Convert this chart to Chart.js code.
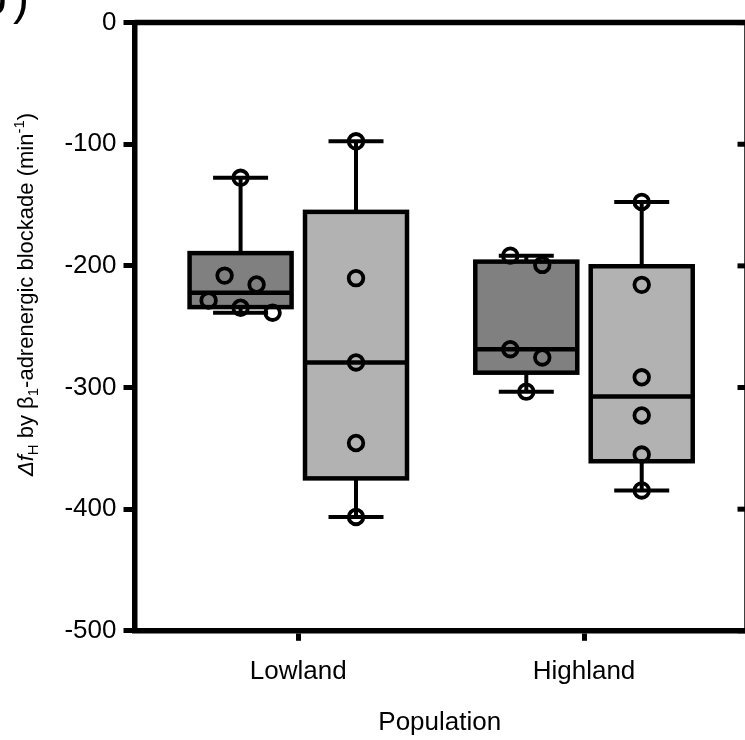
<!DOCTYPE html>
<html><head><meta charset="utf-8">
<script src="https://cdn.jsdelivr.net/npm/chart.js@4.4.1/dist/chart.umd.min.js"></script>
<style>html,body{margin:0;padding:0;background:#fff;}#wrap{width:745px;height:740px;position:relative;}</style>
</head><body><div id="wrap"><canvas id="c" width="745" height="740"></canvas></div>
<script>
// ---------- data ----------
const categories = ['Lowland', 'Highland'];
const seriesNames = ['Series 1', 'Series 2'];
const yTicks = [0, -100, -200, -300, -400, -500];
// individual observations
const lowlandDark = [-127.6, -208.0, -215.3, -228.4, -234.4, -238.5];
const lowlandLight = [-97.6, -210.1, -279.4, -345.6, -406.4];
const highlandDark = [-191.6, -199.2, -268.5, -275.3, -303.4];
const highlandLight = [-147.4, -215.6, -291.6, -323.0, -355.1, -384.6];
// box statistics: [min, q1, median, q3, max]
const lowlandDarkBox = [-238.5, -233.9, -222.0, -189.5, -127.6];
const lowlandLightBox = [-406.4, -374.7, -279.4, -155.6, -97.6];
const highlandDarkBox = [-303.4, -287.8, -268.5, -196.5, -191.6];
const highlandLightBox = [-384.6, -360.6, -307.4, -200.3, -147.4];
const yTitleParts = [
  {t: 'Δ', italic: true}, {t: 'f', italic: true}, {t: 'H', sub: true},
  {t: ' by '}, {t: 'β'}, {t: '1', sub: true},
  {t: '-adrenergic blockade (min'}, {t: '-1', sup: true}, {t: ')'}
];
const xTitle = 'Population';
const panelLabel = ['b', ')'];

// ---------- layout constants ----------
const FONT = "'Liberation Sans', Arial, Helvetica, sans-serif";
Chart.defaults.font.family = FONT;
Chart.defaults.color = '#000';
const X_MIN = 0.4267, X_MAX = 2.5635;
const OFFSET = 0.202;       // box offset from category centre (x units)
const BOX_PX = 102, CAP_PX = 55;
const STEP = 0.112;         // horizontal spacing of overlapping points (x units)
const ROW_GAP = 13;         // values closer than this share a row
const AREA = {left: 134.5, top: 19.3, bottom: 630.8};

const darkBoxes = [lowlandDarkBox, highlandDarkBox];
const lightBoxes = [lowlandLightBox, highlandLightBox];
const darkPts = [lowlandDark, highlandDark];
const lightPts = [lowlandLight, highlandLight];

function dodge(values, center) {
  const sorted = values.slice().sort((a, b) => b - a);
  const rows = [];
  sorted.forEach(v => {
    const row = rows[rows.length - 1];
    if (row && row[0] - v < ROW_GAP) row.push(v); else rows.push([v]);
  });
  const out = [];
  rows.forEach(row => row.forEach((v, i) => out.push({x: center + (i - (row.length - 1) / 2) * STEP, y: v})));
  return out;
}

const boxPlugin = {
  id: 'boxDecor',
  afterDatasetDraw(chart, args) {
    const ds = chart.data.datasets[args.index];
    if (!ds.boxStats) return;
    const xs = chart.scales.x, ys = chart.scales.y, ctx = chart.ctx;
    const line = (x1, y1, x2, y2) => { ctx.beginPath(); ctx.moveTo(x1, y1); ctx.lineTo(x2, y2); ctx.stroke(); };
    ctx.save();
    ctx.strokeStyle = '#000';
    ds.boxStats.forEach((b, i) => {
      const cx = xs.getPixelForValue(ds.data[i].x);
      const [mn, q1, md, q3, mx] = b.map(v => ys.getPixelForValue(v));
      const hw = BOX_PX / 2, cw = CAP_PX / 2;
      ctx.lineWidth = 4;
      line(cx, q3, cx, mx); line(cx, q1, cx, mn);
      line(cx - cw, mx, cx + cw, mx); line(cx - cw, mn, cx + cw, mn);
      ctx.lineWidth = 4.5;
      ctx.strokeRect(cx - hw, q3, BOX_PX, q1 - q3);
      line(cx - hw, md, cx + hw, md);
    });
    ctx.restore();
  }
};

const framePlugin = {
  id: 'frame',
  afterDraw(chart) {
    const ctx = chart.ctx, ys = chart.scales.y, a = chart.chartArea;
    ctx.save();
    ctx.strokeStyle = '#000';
    ctx.lineWidth = 5.5;
    ctx.beginPath(); ctx.moveTo(a.left, a.top); ctx.lineTo(chart.width + 5, a.top); ctx.stroke();
    const rx = chart.width + 2;
    ctx.beginPath(); ctx.moveTo(rx, a.top); ctx.lineTo(rx, a.bottom); ctx.stroke();
    ctx.lineWidth = 5;
    yTicks.forEach(v => {
      const y = ys.getPixelForValue(v);
      ctx.beginPath(); ctx.moveTo(chart.width - 7.5, y); ctx.lineTo(chart.width, y); ctx.stroke();
    });
    // y-axis title (rich text, rotated)
    ctx.fillStyle = '#000';
    ctx.translate(33, 294.5);
    ctx.rotate(-Math.PI / 2);
    ctx.textBaseline = 'alphabetic';
    const fontOf = p => (p.italic ? 'italic ' : '') + ((p.sub || p.sup) ? 15 : 22) + 'px ' + FONT;
    let total = 0;
    yTitleParts.forEach(p => { ctx.font = fontOf(p); p.w = ctx.measureText(p.t).width; total += p.w; });
    let x = -total / 2;
    yTitleParts.forEach(p => {
      ctx.font = fontOf(p);
      ctx.fillText(p.t, x, p.sub ? 5 : (p.sup ? -9 : 0));
      x += p.w;
    });
    ctx.restore();
    // panel label (cropped at the corner)
    ctx.save();
    ctx.fillStyle = '#000';
    ctx.font = '48px ' + FONT;
    ctx.fillText(panelLabel[0], -20, 13.5);
    ctx.fillText(panelLabel[1], 13, 13.5);
    ctx.restore();
  }
};

const barDs = (name, boxes, color, sign) => ({
  type: 'bar', label: name,
  data: boxes.map((b, i) => ({x: i + 1 + sign * OFFSET, y: [b[1], b[3]]})),
  backgroundColor: color, borderWidth: 0, barThickness: BOX_PX, grouped: false, order: 3,
  boxStats: boxes
});
const ptDs = (name, pts, sign) => ({
  type: 'scatter', label: name,
  data: pts.flatMap((p, i) => dodge(p, i + 1 + sign * OFFSET)),
  pointRadius: 7.3, pointHoverRadius: 7.3, borderColor: '#000', backgroundColor: 'rgba(0,0,0,0)',
  borderWidth: 3.8, order: 1
});

new Chart(document.getElementById('c'), {
  type: 'bar',
  data: {
    datasets: [
      ptDs(seriesNames[0], darkPts, -1),
      ptDs(seriesNames[1], lightPts, 1),
      barDs(seriesNames[0], darkBoxes, '#808080', -1),
      barDs(seriesNames[1], lightBoxes, '#b2b2b2', 1)
    ]
  },
  options: {
    responsive: false, animation: false, events: [],
    devicePixelRatio: 1,
    layout: {autoPadding: false, padding: {top: AREA.top, left: 0, right: 0, bottom: 0}},
    plugins: {legend: {display: false}, tooltip: {enabled: false}},
    scales: {
      x: {
        type: 'linear', min: X_MIN, max: X_MAX, offset: false,
        afterBuildTicks: s => { s.ticks = categories.map((c, i) => ({value: i + 1})); },
        afterFit: s => { s.height = 740 - AREA.bottom; s.paddingLeft = 0; s.paddingRight = 0; },
        ticks: {callback: v => categories[v - 1] || '', color: '#000', font: {size: 26}, padding: 15, maxRotation: 0, autoSkip: false},
        grid: {display: true, offset: false, drawOnChartArea: false, drawTicks: true, tickLength: 10, tickWidth: 5, tickColor: '#000'},
        border: {display: true, width: 5.5, color: '#000'},
        title: {display: true, text: xTitle, color: '#000', font: {size: 26}, padding: {top: 0, bottom: 2}}
      },
      y: {
        type: 'linear', min: -500, max: 0,
        afterBuildTicks: s => { s.ticks = yTicks.map(v => ({value: v})); },
        afterFit: s => { s.width = AREA.left; },
        ticks: {callback: v => String(v), color: '#000', font: {size: 26}, padding: 7},
        grid: {display: true, drawOnChartArea: false, drawTicks: true, tickLength: 11, tickWidth: 5, tickColor: '#000'},
        border: {display: true, width: 5.5, color: '#000'}
      }
    }
  },
  plugins: [boxPlugin, framePlugin]
});
</script></body></html>
